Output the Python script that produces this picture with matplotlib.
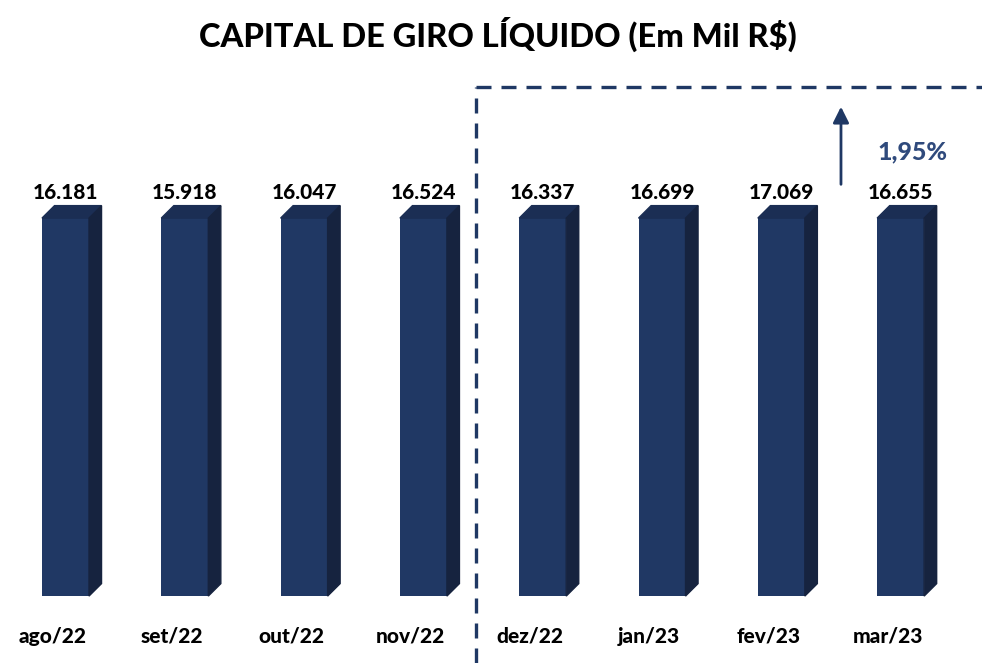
import matplotlib
matplotlib.use('Agg')
import matplotlib.pyplot as plt
from matplotlib.patches import Polygon

months = ['ago/22', 'set/22', 'out/22', 'nov/22', 'dez/22', 'jan/23', 'fev/23', 'mar/23']
values = [16181, 15918, 16047, 16524, 16337, 16699, 17069, 16655]
# the bars in the picture are all drawn at the same height
bar_heights = [100, 100, 100, 100, 100, 100, 100, 100]
variation = '1,95%'

navy = '#203864'
top_col = '#1b2e54'
side_col = '#16233f'
dash_col = '#1f3864'

plt.rcParams['font.family'] = ['Lato', 'DejaVu Sans']

fig = plt.figure(figsize=(9.82, 6.63), dpi=100)
ax = fig.add_axes([0, 0, 1, 1])
ax.set_xlim(-0.549, 7.682)
ax.set_ylim(-17.7, 157.7)
ax.axis('off')

w = 0.394
dx = 0.105
dy = 3.3
xs = list(range(len(months)))

ax.bar(xs, bar_heights, width=w, color=navy, zorder=2)
for x, h in zip(xs, bar_heights):
    l, r = x - w / 2, x + w / 2
    ax.add_patch(Polygon([(l, h), (r, h), (r + dx, h + dy), (l + dx, h + dy)],
                         closed=True, color=top_col, zorder=2))
    ax.add_patch(Polygon([(r, 0), (r + dx, dy), (r + dx, h + dy), (r, h)],
                         closed=True, color=side_col, zorder=2))

for x, h, v in zip(xs, bar_heights, values):
    s = f'{v:,}'.replace(',', '.')
    ax.text(x, h + 6.9, s, ha='center', va='center', fontsize=15,
            fontweight='black', color='black')

for x, m in zip(xs, months):
    ax.text(x - 0.11, -10.6, m, ha='center', va='center', fontsize=15,
            fontweight='black', color='black')

# dashed box around the last months
xd = 3.44
ytop = 134.6
ax.plot([xd, xd], [-17.7, ytop], color=dash_col, lw=2.4, ls=(0, (4.5, 3)), zorder=1)
ax.plot([xd, 7.7], [ytop, ytop], color=dash_col, lw=2.4, ls=(0, (4.5, 3)), zorder=1)

ax.annotate('', xy=(6.50, 130.2), xytext=(6.50, 108.2),
            arrowprops=dict(arrowstyle='-|>', color=dash_col, lw=2,
                            mutation_scale=24))
ax.text(7.10, 117.4, variation, ha='center', va='center', fontsize=18,
        fontweight='black', color='#2f4a7c')

fig.text(0.507, 1 - 34 / 663, 'CAPITAL DE GIRO LÍQUIDO (Em Mil R$)', ha='center',
         va='center', fontsize=23.5, fontweight='black', color='black')

fig.savefig('out.png', dpi=100)
